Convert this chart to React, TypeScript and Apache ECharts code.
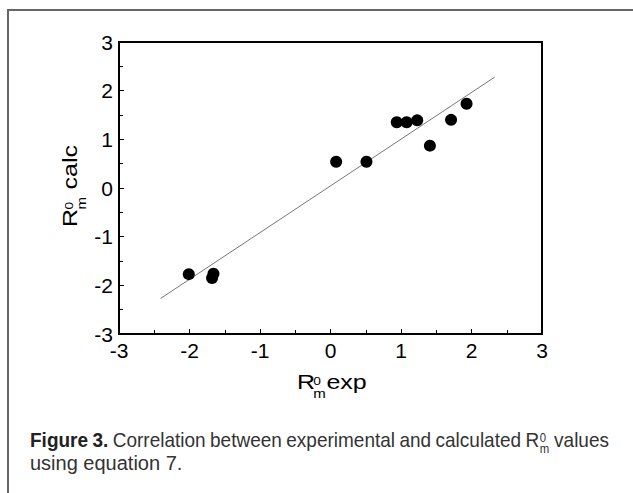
import React, { useEffect, useRef } from "react";
import * as echarts from "echarts";

// Data
const expValues = [-2.01, -1.66, -1.68, 0.08, 0.51, 0.94, 1.08, 1.23, 1.41, 1.71, 1.93];
const calcValues = [-1.77, -1.76, -1.85, 0.54, 0.54, 1.35, 1.35, 1.39, 0.87, 1.4, 1.73];
const fitLineX = [-2.41, 2.33];
const fitLineY = [-2.27, 2.28];
const axisMin = -3;
const axisMax = 3;
const axisStep = 1;

const captionWords1 = ["Figure", "3.", "Correlation", "between", "experimental", "and", "calculated", "R", "values"];
const captionLine2 = "using equation 7.";

const FONT_AX = "Liberation Sans, Arial, sans-serif";
const FONT_CAP = "Liberation Sans";

function measure(text: string, font: string): number {
  const c = document.createElement("canvas").getContext("2d");
  if (!c) return text.length * 9;
  c.font = font;
  return c.measureText(text).width;
}

function buildCaption(): any[] {
  const size = 20;
  const subSize = 12;
  const squeeze = 0.95;
  const left = 30;
  const right = 609;
  const y1 = 440;
  const y2 = 463;
  const span = (right - left) / squeeze;
  const widths = captionWords1.map((w, i) => {
    const bold = i < 2;
    const f = `${bold ? "bold " : ""}${size}px ${FONT_CAP}`;
    let wd = measure(w, f);
    if (w === "R") wd += measure("m", `${subSize}px ${FONT_CAP}`) + 1;
    return wd;
  });
  const total = widths.reduce((a, b) => a + b, 0);
  const gap = Math.max(3, (span - total) / (captionWords1.length - 1));
  const kids: any[] = [];
  let x = 0;
  captionWords1.forEach((w, i) => {
    const bold = i < 2;
    kids.push({
      type: "text",
      x,
      y: y1,
      silent: true,
      style: {
        text: w,
        fontFamily: FONT_CAP,
        fontSize: size,
        fontWeight: bold ? "bold" : "normal",
        fill: bold ? "#222" : "#333",
        align: "left",
        verticalAlign: "middle",
      },
    });
    if (w === "R") {
      const rx = x + measure("R", `${size}px ${FONT_CAP}`) + 0.5;
      kids.push({
        type: "text", x: rx, y: y1 - 3, silent: true,
        style: { text: "0", fontFamily: FONT_CAP, fontSize: subSize, fill: "#333", align: "left", verticalAlign: "middle" },
      });
      kids.push({
        type: "text", x: rx, y: y1 + 8, silent: true,
        style: { text: "m", fontFamily: FONT_CAP, fontSize: subSize, fill: "#333", align: "left", verticalAlign: "middle" },
      });
    }
    x += widths[i] + gap;
  });
  return [
    { type: "group", x: left, y: 0, scaleX: squeeze, children: kids },
    {
      type: "text",
      x: left,
      y: y2,
      silent: true,
      style: { text: captionLine2, fontFamily: FONT_CAP, fontSize: size, fill: "#333", align: "left", verticalAlign: "middle" },
    },
  ];
}

function titleChildren(word: string, subX: number, wordX: number): any[] {
  const base = { fontFamily: FONT_AX, fill: "#000", align: "left", verticalAlign: "middle" };
  return [
    { type: "text", x: 0, y: 0, silent: true, style: { ...base, text: "R", fontSize: 20 } },
    { type: "text", x: subX, y: -1, silent: true, style: { ...base, text: "0", fontSize: 11 } },
    { type: "text", x: subX, y: 12, silent: true, style: { ...base, text: "m", fontSize: 12 } },
    { type: "text", x: wordX, y: 0, silent: true, style: { ...base, text: word, fontSize: 20 } },
  ];
}

function makeAxis(extra: any) {
  return {
    type: "value",
    min: axisMin,
    max: axisMax,
    interval: axisStep,
    axisLine: { show: true, onZero: false, lineStyle: { color: "#000", width: 2 } },
    axisTick: { show: true, inside: true, length: 5, lineStyle: { color: "#000", width: 1 } },
    minorTick: { show: true, splitNumber: 2, length: 4, lineStyle: { color: "#000", width: 1 } },
    splitLine: { show: false },
    minorSplitLine: { show: false },
    axisLabel: { color: "#000", fontSize: 21, fontFamily: FONT_AX, margin: 6 },
    ...extra,
  };
}

export default function App() {
  const ref = useRef<HTMLDivElement>(null);
  useEffect(() => {
    if (!ref.current) return;
    const chart = echarts.init(ref.current, undefined, { renderer: "svg" });
    const points = expValues.map((x, i) => [x, calcValues[i]]);
    const fit = fitLineX.map((x, i) => [x, fitLineY[i]]);
    chart.setOption({
      animation: false,
      backgroundColor: "#fff",
      grid: {
        left: 119,
        right: 91,
        top: 42,
        bottom: 159,
        show: true,
        borderColor: "#000",
        borderWidth: 2,
        backgroundColor: "transparent",
      },
      xAxis: makeAxis({}),
      yAxis: makeAxis({}),
      series: [
        {
          type: "line",
          data: fit,
          showSymbol: false,
          symbol: "none",
          lineStyle: { color: "#777", width: 1 },
          z: 1,
          silent: true,
        },
        {
          type: "scatter",
          data: points,
          symbol: "circle",
          symbolSize: 12,
          itemStyle: { color: "#000", opacity: 1 },
          z: 3,
          silent: true,
        },
      ],
      graphic: [
        {
          type: "rect",
          silent: true,
          shape: { x: 8, y: 10, width: 900, height: 900 },
          style: { fill: "none", stroke: "#666", lineWidth: 2 },
        },
        {
          type: "group",
          x: 297,
          y: 382,
          scaleX: 1.25,
          children: titleChildren("exp", 13, 23.5),
        },
        {
          type: "group",
          x: 70.5,
          y: 227,
          rotation: Math.PI / 2,
          scaleX: 1.25,
          children: titleChildren("calc", 14, 30),
        },
        ...buildCaption(),
      ],
    });
    return () => chart.dispose();
  }, []);
  return (
    <div
      ref={ref}
      style={{ position: "absolute", left: 0, top: 0, width: 633, height: 493 }}
    />
  );
}
